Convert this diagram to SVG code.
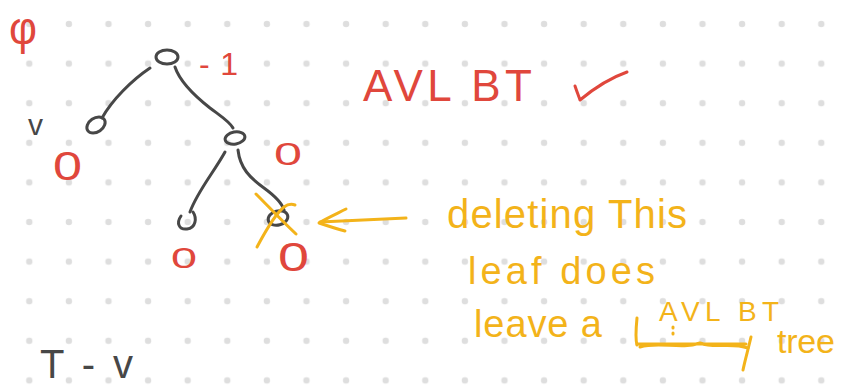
<svg xmlns="http://www.w3.org/2000/svg" width="844" height="388" viewBox="0 0 844 388">
  <style>
    .ink { fill: none; stroke-linecap: round; stroke-linejoin: round; stroke-width: 3; }
    .dark { stroke: #474747; }
    .red { stroke: #e0473c; }
    .amber { stroke: #f3b31a; }
    text { font-family: "Liberation Sans", Arial, sans-serif; }
    .t-red { fill: #e0473c; }
    .t-amber { fill: #f3b31a; }
    .t-dark { fill: #474747; }
  </style>
  <defs>
    <!-- dotted notebook paper -->
    <pattern id="dots" x="9.5" y="4.2" width="39.6" height="39.6" patternUnits="userSpaceOnUse">
      <circle cx="19.8" cy="19.8" r="3.2" fill="#dedede"/>
    </pattern>
  </defs>

  <rect width="844" height="388" fill="#ffffff"/>
  <rect width="844" height="388" fill="url(#dots)"/>

  <!-- tree edges -->
  <g id="connectors" class="ink dark">
    <path d="M150,68 C132,80 112,100 102,118"/>
    <path d="M175,67 C180,82 196,97 210,108 C222,117 230,122 233,128"/>
    <path d="M225,152 C214,172 197,192 190,212"/>
    <path d="M238,150 C240,168 250,178 264,188 C275,196 282,203 284,210"/>
  </g>

  <!-- tree nodes -->
  <g id="root">
    <ellipse class="ink dark" cx="167" cy="57" rx="11" ry="7"/>
    <text class="t-red" x="199" y="75" font-size="32" textLength="39">-1</text>
  </g>
  <g id="node-v">
    <ellipse class="ink dark" cx="96" cy="125" rx="10" ry="7" transform="rotate(-35 96 125)"/>
    <text class="t-dark" x="28" y="135" font-size="30">v</text>
    <text class="t-red" x="53" y="180" font-size="40" textLength="29" lengthAdjust="spacingAndGlyphs">0</text>
  </g>
  <g id="node-right">
    <ellipse class="ink dark" cx="235" cy="138" rx="10" ry="6" transform="rotate(-10 235 138)"/>
    <text class="t-red" x="274" y="165" font-size="31" textLength="28" lengthAdjust="spacingAndGlyphs">0</text>
  </g>
  <g id="leaf-left">
    <path class="ink dark" d="M193,212 C197,218 196,228 187,229 C179,230 176,223 181,216"/>
    <text class="t-red" x="171" y="268" font-size="30" textLength="26" lengthAdjust="spacingAndGlyphs">0</text>
  </g>
  <g id="leaf-right">
    <ellipse class="ink dark" cx="278" cy="218" rx="10" ry="7" transform="rotate(-15 278 218)"/>
    <text class="t-red" x="278" y="271" font-size="40" textLength="31" lengthAdjust="spacingAndGlyphs">0</text>
    <!-- struck out -->
    <path class="ink amber" d="M256,194 C268,206 283,222 296,234"/>
    <path class="ink amber" d="M257,247 C265,232 275,214 284,207 C288,204 292,204 295,205"/>
  </g>

  <!-- corner label -->
  <g id="phi">
    <text class="t-red" x="9" y="44" font-size="47" textLength="28" lengthAdjust="spacingAndGlyphs">φ</text>
  </g>

  <!-- verdict -->
  <g id="verdict">
    <text class="t-red" x="363" y="101" font-size="44" textLength="169">AVL BT</text>
    <path class="ink red" d="M575,86 C577,92 579,97 580,100 C592,90 610,78 627,72"/>
  </g>

  <!-- note with pointer -->
  <g id="note">
    <path class="ink amber" d="M406,218 L320,222"/>
    <path class="ink amber" d="M346,209 C336,214 325,219 319,223 C328,226 337,229 345,231"/>
    <text class="t-amber" x="447" y="228" font-size="40" textLength="240">deleting This</text>
    <text class="t-amber" x="468" y="284" font-size="38" textLength="187">leaf does</text>
    <text class="t-amber" x="474" y="337" font-size="38" textLength="128">leave a</text>
    <text class="t-amber" x="659" y="321" font-size="28" textLength="120">AVL BT</text>
    <text class="t-amber" x="777" y="353" font-size="34" textLength="58">tree</text>
    <!-- crossed-out word and insertion mark -->
    <path class="ink amber" d="M637,318 C636,328 635,338 637,345"/>
    <path class="ink amber" d="M637,344 L746,344 M640,347 C660,341 680,350 700,343 C715,349 730,342 748,348"/>
    <path class="ink amber" d="M751,337 C748,350 745,360 743,370"/>
    <path class="ink amber" d="M673,327 L673,328 M673,333 L673,334"/>
  </g>

  <!-- bottom label -->
  <g id="t-minus-v">
    <text class="t-dark" x="40" y="378" font-size="40" textLength="93">T - v</text>
  </g>
</svg>
